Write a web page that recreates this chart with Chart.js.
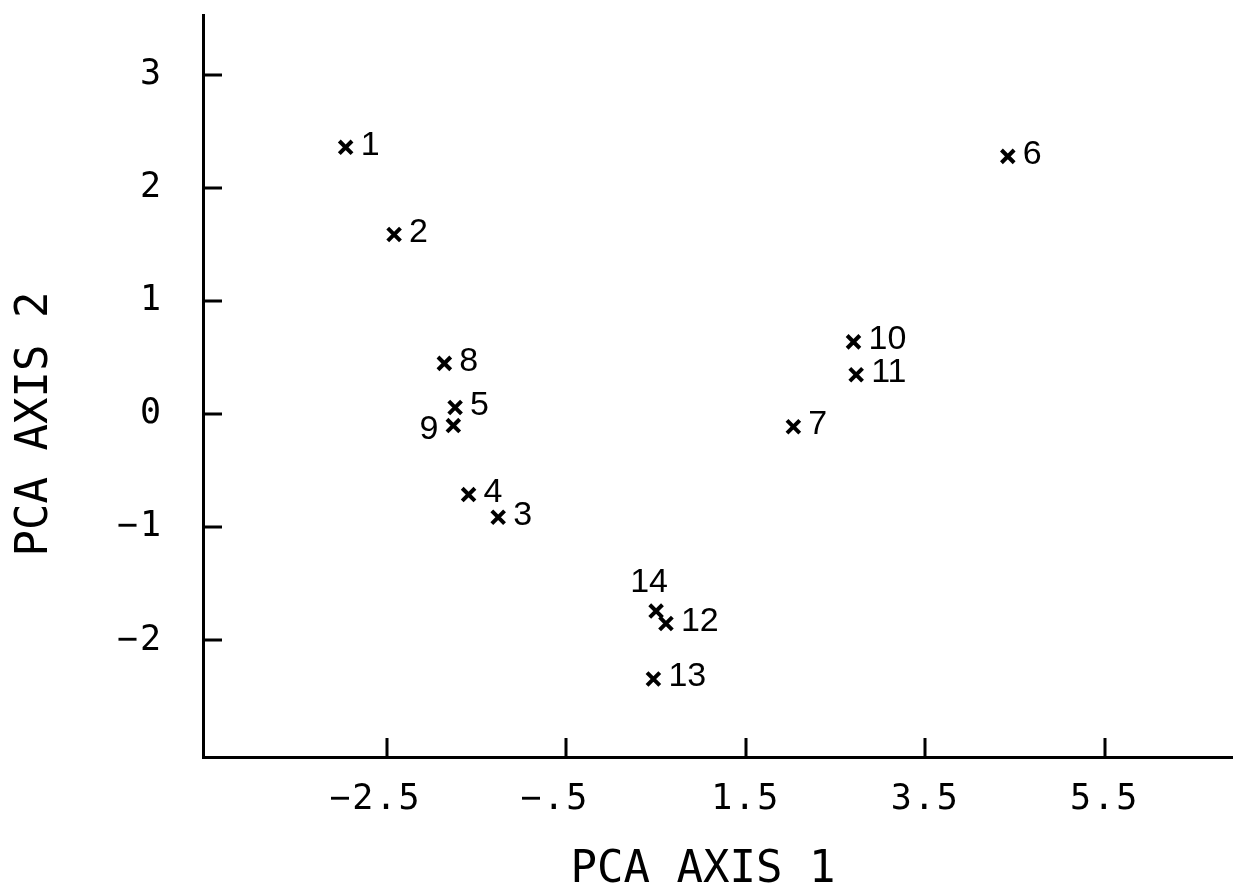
<!DOCTYPE html>
<html>
<head>
<meta charset="utf-8">
<title>PCA axis 1 vs axis 2</title>
<script src="https://cdn.jsdelivr.net/npm/chart.js@4.4.1/dist/chart.umd.min.js"></script>
<style>
html, body { margin: 0; padding: 0; background: #fff; }
</style>
</head>
<body>
<canvas id="mycanvas" width="1233" height="893"></canvas>
<script>
// sample numbers and their scores on the first two PCA axes
var ids   = ['1', '2', '3', '4', '5', '6', '7', '8', '9', '10', '11', '12', '13', '14'];
var axis1 = [-2.96, -2.42, -1.26, -1.59, -1.74, 4.42, 2.03, -1.86, -1.76, 2.70, 2.73, 0.61, 0.47, 0.50];
var axis2 = [2.36, 1.59, -0.91, -0.71, 0.06, 2.28, -0.11, 0.45, -0.10, 0.64, 0.35, -1.85, -2.34, -1.74];

var xTicks = [-2.5, -0.5, 1.5, 3.5, 5.5];
var xTickLabels = ['\u22122.5', '\u2212.5', '1.5', '3.5', '5.5'];
var yTicks = [-2, -1, 0, 1, 2, 3];
var yTickLabels = ['\u22122', '\u22121', '0', '1', '2', '3'];

var xTitle = 'PCA AXIS 1';
var yTitle = 'PCA AXIS 2';

var points = [];
for (var i in ids) {
	points.push({ x: axis1[i], y: axis2[i] });
}

// labels that don't sit to the right of their marker
var labelSide = { '9': 'left', '14': 'above' };

// keep the plot area exactly where the axes say, no label overhang
function noPadding(scale) {
	scale.paddingTop = 0;
	scale.paddingBottom = 0;
	scale.paddingLeft = 0;
	scale.paddingRight = 0;
}

var plotMarks = {
	id: 'plotMarks',
	beforeDraw: function(chart) {
		chart.ctx.letterSpacing = '2px';
	},
	afterDatasetsDraw: function(chart) {
		var ctx = chart.ctx;
		var meta = chart.getDatasetMeta(0);
		ctx.save();
		ctx.letterSpacing = '0px';
		ctx.fillStyle = '#000';
		ctx.font = '34px "Liberation Sans", Arial, sans-serif';
		ctx.textBaseline = 'middle';
		meta.data.forEach(function(pt, i) {
			var side = labelSide[ids[i]] || 'right';
			if (side == 'left') {
				ctx.textAlign = 'right';
				ctx.fillText(ids[i], pt.x - 15, pt.y + 4);
			} else if (side == 'above') {
				ctx.textAlign = 'center';
				ctx.fillText(ids[i], pt.x - 7, pt.y - 28);
			} else {
				ctx.textAlign = 'left';
				ctx.fillText(ids[i], pt.x + 15, pt.y - 2);
			}
		});
		ctx.restore();
	},
	afterDraw: function(chart) {
		var ctx = chart.ctx;
		var xs = chart.scales.x, ys = chart.scales.y;
		ctx.save();
		ctx.letterSpacing = '0px';
		// tick marks point into the plot
		ctx.strokeStyle = '#000';
		ctx.lineWidth = 3;
		ctx.beginPath();
		xTicks.forEach(function(v) {
			var px = Math.round(xs.getPixelForValue(v));
			ctx.moveTo(px, ys.bottom);
			ctx.lineTo(px, ys.bottom - 19);
		});
		yTicks.forEach(function(v) {
			var py = Math.round(ys.getPixelForValue(v));
			ctx.moveTo(xs.left, py);
			ctx.lineTo(xs.left + 19, py);
		});
		ctx.stroke();

		// axis titles
		ctx.fillStyle = '#000';
		ctx.font = '44px "DejaVu Sans Mono", monospace';
		ctx.textAlign = 'center';
		ctx.textBaseline = 'middle';
		ctx.fillText(xTitle, 703, 871);
		ctx.translate(36, 424);
		ctx.rotate(-Math.PI / 2);
		ctx.fillText(yTitle, 0, 0);
		ctx.restore();
	}
};

var ctx = document.getElementById('mycanvas');

var scatter = new Chart(ctx, {
	type: 'scatter',
	data: {
		datasets: [
			{
				label: 'samples',
				data: points,
				pointStyle: 'crossRot',
				pointRadius: 9,
				pointBorderWidth: 4,
				borderColor: '#000',
				backgroundColor: '#000'
			}
		]
	},
	options: {
		responsive: false,
		animation: false,
		layout: { autoPadding: false, padding: { top: 15, right: 0, left: 0, bottom: 0 } },
		plugins: {
			legend: { display: false },
			tooltip: { enabled: false }
		},
		scales: {
			x: {
				type: 'linear',
				min: -4.55,
				max: 6.93,
				afterBuildTicks: function(scale) {
					scale.ticks = xTicks.map(function(v) { return { value: v }; });
				},
				afterFit: function(scale) {
					scale.height = 136;
					noPadding(scale);
				},
				ticks: {
					autoSkip: false,
					maxRotation: 0,
					padding: 22,
					color: '#000',
					font: { family: 'DejaVu Sans Mono', size: 35 },
					// the minus sign hangs left of the centred digits
					callback: function(value, index) {
						var s = xTickLabels[index];
						return value < 0 ? s + ' ' : s;
					}
				},
				grid: { display: true, drawOnChartArea: false, drawTicks: false },
				border: { display: true, color: '#000', width: 3 }
			},
			y: {
				type: 'linear',
				min: -3.03,
				max: 3.53,
				afterBuildTicks: function(scale) {
					scale.ticks = yTicks.map(function(v) { return { value: v }; });
				},
				afterFit: function(scale) {
					scale.width = 203;
					noPadding(scale);
				},
				ticks: {
					autoSkip: false,
					padding: 40,
					color: '#000',
					font: { family: 'DejaVu Sans Mono', size: 35 },
					callback: function(value, index) { return yTickLabels[index]; }
				},
				grid: { display: true, drawOnChartArea: false, drawTicks: false },
				border: { display: true, color: '#000', width: 3 }
			}
		}
	},
	plugins: [plotMarks]
});
</script>
</body>
</html>
